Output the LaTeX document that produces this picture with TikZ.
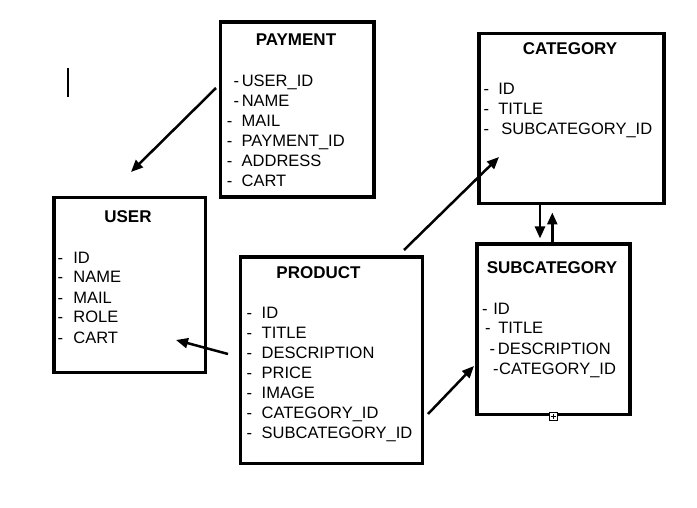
\documentclass[tikz,border=0pt]{standalone}
\usepackage{fontspec}
\setmainfont{Liberation Sans}
\usetikzlibrary{arrows.meta}
\begin{document}
\begin{tikzpicture}[x=1pt,y=-1pt,
  box/.style={draw, line width=3.4pt, inner sep=0pt, outer sep=0pt, anchor=north west},
  ttl/.style={font=\fontsize{17}{20}\selectfont\bfseries, anchor=base, inner sep=0pt},
  itm/.style={font=\fontsize{16.5}{20}\selectfont, anchor=base west, inner sep=0pt},
  arr/.style={line width=2.5pt, -{Triangle[length=12pt,width=10pt]}}]
\useasboundingbox (0,0) rectangle (697,508);
\fill[white] (0,0) rectangle (697,508);

% boxes
\node[box, minimum width=153.5pt, minimum height=175pt] (payment) at (220.5,22) {};
\node[box, minimum width=185pt, minimum height=170pt] (category) at (478.8,33.8) {};
\node[box, minimum width=151.5pt, minimum height=175pt] (user) at (54,197.5) {};
\node[box, minimum width=182pt, minimum height=206.5pt] (product) at (240.5,257) {};
\node[box, minimum width=153pt, minimum height=170.3pt] (subcategory) at (477,244) {};

% PAYMENT
\node[ttl] (pt) at (296,46) {PAYMENT};
\node[itm] (p1) at (233.3,86.5) {-\hspace{2.8pt}USER\_ID};
\node[itm] (p2) at (233.3,106.5) {-\hspace{2.8pt}NAME};
\node[itm] (p3) at (226.7,126.5) {-\hspace{9.3pt}MAIL};
\node[itm] (p4) at (226.7,146.5) {-\hspace{9.3pt}PAYMENT\_ID};
\node[itm] (p5) at (226.7,166.5) {-\hspace{9.3pt}ADDRESS};
\node[itm] (p6) at (226.7,186.5) {-\hspace{9.3pt}CART};

% CATEGORY
\node[ttl] (ct) at (570,55) {CATEGORY};
\node[itm] (c1) at (483.3,95) {-\hspace{9.3pt}ID};
\node[itm] (c2) at (483.3,115) {-\hspace{9.3pt}TITLE};
\node[itm] (c3) at (483.3,135) {-\hspace{12.5pt}SUBCATEGORY\_ID};

% USER
\node[ttl] (ut) at (128,223) {USER};
\node[itm] (u1) at (57.5,263) {-\hspace{10.2pt}ID};
\node[itm] (u2) at (57.5,283) {-\hspace{10.2pt}NAME};
\node[itm] (u3) at (57.5,303) {-\hspace{10.2pt}MAIL};
\node[itm] (u4) at (57.5,323) {-\hspace{10.2pt}ROLE};
\node[itm] (u5) at (57.5,343) {-\hspace{10.2pt}CART};

% PRODUCT
\node[ttl] (prt) at (318.5,278) {PRODUCT};
\node[itm] (r1) at (246.5,318) {-\hspace{9.5pt}ID};
\node[itm] (r2) at (246.5,338) {-\hspace{9.5pt}TITLE};
\node[itm] (r3) at (246.5,358) {-\hspace{9.5pt}DESCRIPTION};
\node[itm] (r4) at (246.5,378) {-\hspace{9.5pt}PRICE};
\node[itm] (r5) at (246.5,398) {-\hspace{9.5pt}IMAGE};
\node[itm] (r6) at (246.5,418) {-\hspace{9.5pt}CATEGORY\_ID};
\node[itm] (r7) at (246.5,438) {-\hspace{9.5pt}SUBCATEGORY\_ID};

% SUBCATEGORY
\node[ttl] (st) at (552,273) {SUBCATEGORY};
\node[itm] (s1) at (482,314) {-\hspace{5.6pt}ID};
\node[itm] (s2) at (485,334) {-\hspace{7.6pt}TITLE};
\node[itm] (s3) at (489.5,354) {-\hspace{2.8pt}DESCRIPTION};
\node[itm] (s4) at (493,374) {-\hspace{0.5pt}CATEGORY\_ID};

% connector ends
\coordinate (a1s) at (216,88);  \coordinate (a1e) at (131,172);
\coordinate (a2s) at (404,250); \coordinate (a2e) at (499,157);
\coordinate (a3s) at (228,354); \coordinate (a3e) at (176,340);
\coordinate (a4s) at (428,414); \coordinate (a4e) at (474,366);
\coordinate (a5s) at (540,205); \coordinate (a5e) at (540,238.5);
\coordinate (a6s) at (552.3,242); \coordinate (a6e) at (552.3,212.5);

\draw[arr] (a1s) -- (a1e);
\draw[arr] (a2s) -- (a2e);
\draw[arr] (a3s) -- (a3e);
\draw[arr] (a4s) -- (a4e);
\draw[arr] (a5s) -- (a5e);
\draw[arr] (a6s) -- (a6e);

% small handle and cursor
\draw[line width=0.8pt, fill=white] (549,412) rectangle (557,420);
\draw[line width=0.8pt] (553,413.5) -- (553,418.5) (550.5,416) -- (555.5,416);
\draw[line width=1.3pt] (68,68) -- (68,97);
\end{tikzpicture}
\end{document}
